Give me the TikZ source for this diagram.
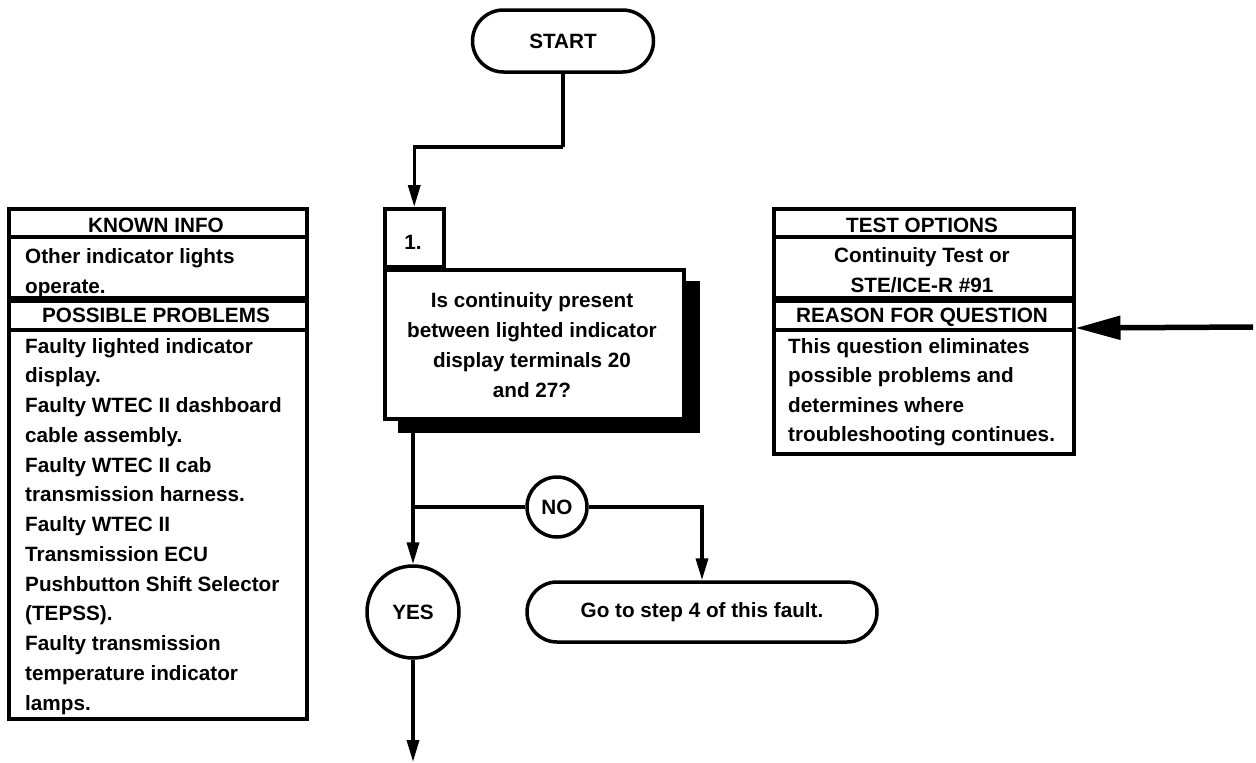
\documentclass[tikz,border=0pt]{standalone}
\usepackage{fontspec}
\setmainfont{Liberation Sans}
\usetikzlibrary{arrows.meta}
\begin{document}
\begin{tikzpicture}[x=1pt,y=-1pt,
  every node/.style={font=\fontsize{20.7}{24}\selectfont\bfseries, inner sep=0pt},
  panel/.style={draw, line width=3.5pt, anchor=north west},
  conn/.style={line width=3.5pt},
  arr/.style={conn, -{Triangle[length=22pt,width=12pt]}},
  bigarr/.style={line width=5.5pt, -{Triangle[length=45pt,width=23pt]}},
  term/.style={draw, line width=3.5pt, rounded corners=30pt},
  circ/.style={draw, circle, line width=3.5pt}
]
\useasboundingbox (0,0) rectangle (1256,763);

% START
\node[term, minimum width=181pt, minimum height=62pt, rounded corners=31pt] (start) at (563,41) {START};
\coordinate (bend1) at (563,147);

% step number and question box with shadow
\node[fill=black, minimum width=302pt, minimum height=152pt] (shadow) at (549,357) {};
\node[panel, fill=white, minimum width=299pt, minimum height=149pt] (qbox) at (383,268) {};
\node[panel, fill=white, minimum width=59pt, minimum height=58pt] (num) at (383,207) {};
\node[anchor=base] (numT) at (413,249) {1.};
\foreach \t [count=\i] in {Is continuity present, between lighted indicator, display terminals 20, and 27?}
  \node[anchor=base] (q\i) at (532,277+30*\i) {\t};

% left panels
\node[panel, minimum width=298pt, minimum height=28pt] (kh) at (7,207) {};
\node[panel, minimum width=298pt, minimum height=61pt] (kb) at (7,235) {};
\node[panel, minimum width=298pt, minimum height=29pt] (ph) at (7,299) {};
\node[panel, minimum width=298pt, minimum height=389pt] (pb) at (7,328) {};
\node[anchor=base] (khT) at (156,232) {KNOWN INFO};
\node[anchor=base] (phT) at (156,322) {POSSIBLE PROBLEMS};
\node[anchor=base west] (k1) at (25,263) {Other indicator lights};
\node[anchor=base west] (k2) at (25,293) {operate.};
\foreach \t [count=\i] in {Faulty lighted indicator, display., Faulty WTEC II dashboard, cable assembly., Faulty WTEC II cab, transmission harness., Faulty WTEC II, Transmission ECU, Pushbutton Shift Selector, (TEPSS)., Faulty transmission, temperature indicator, lamps.}
  \node[anchor=base west] (p\i) at (25,323.25+29.75*\i) {\t};

% right panels
\node[panel, minimum width=300pt, minimum height=28pt] (th) at (772,207) {};
\node[panel, minimum width=300pt, minimum height=61pt] (tb) at (772,235) {};
\node[panel, minimum width=300pt, minimum height=29pt] (rh) at (772,299) {};
\node[panel, minimum width=300pt, minimum height=124pt] (rb) at (772,328) {};
\node[anchor=base] (thT) at (922,232) {TEST OPTIONS};
\node[anchor=base] (t1) at (922,262) {Continuity Test or};
\node[anchor=base] (t2) at (922,292) {STE/ICE-R \#91};
\node[anchor=base] (rhT) at (922,322) {REASON FOR QUESTION};
\foreach \t [count=\i] in {This question eliminates, possible problems and, determines where, troubleshooting continues.}
  \node[anchor=base west] (r\i) at (788,323.5+29.5*\i) {\t};
\coordinate (rin) at (1253,327);

% decisions
\node[circ, minimum size=92pt] (yes) at (413,612) {YES};
\node[circ, minimum size=60pt] (no) at (557,507) {NO};
\node[term, minimum width=350pt, minimum height=60pt] (goto) at (702,612) {Go to step 4 of this fault.};
\coordinate (endp) at (413,762);

% connectors
\draw[conn] (start.south) -- (bend1);
\draw[arr] (bend1) -| (num.north);
\draw[arr] (yes |- qbox.south) -- (yes.north);
\draw[conn] (yes |- no) -- (no.west);
\draw[arr] (no.east) -| (goto.north);
\draw[arr] (yes.south) -- (endp);
\draw[bigarr] (rin) -- (rb.north east);
\end{tikzpicture}
\end{document}
